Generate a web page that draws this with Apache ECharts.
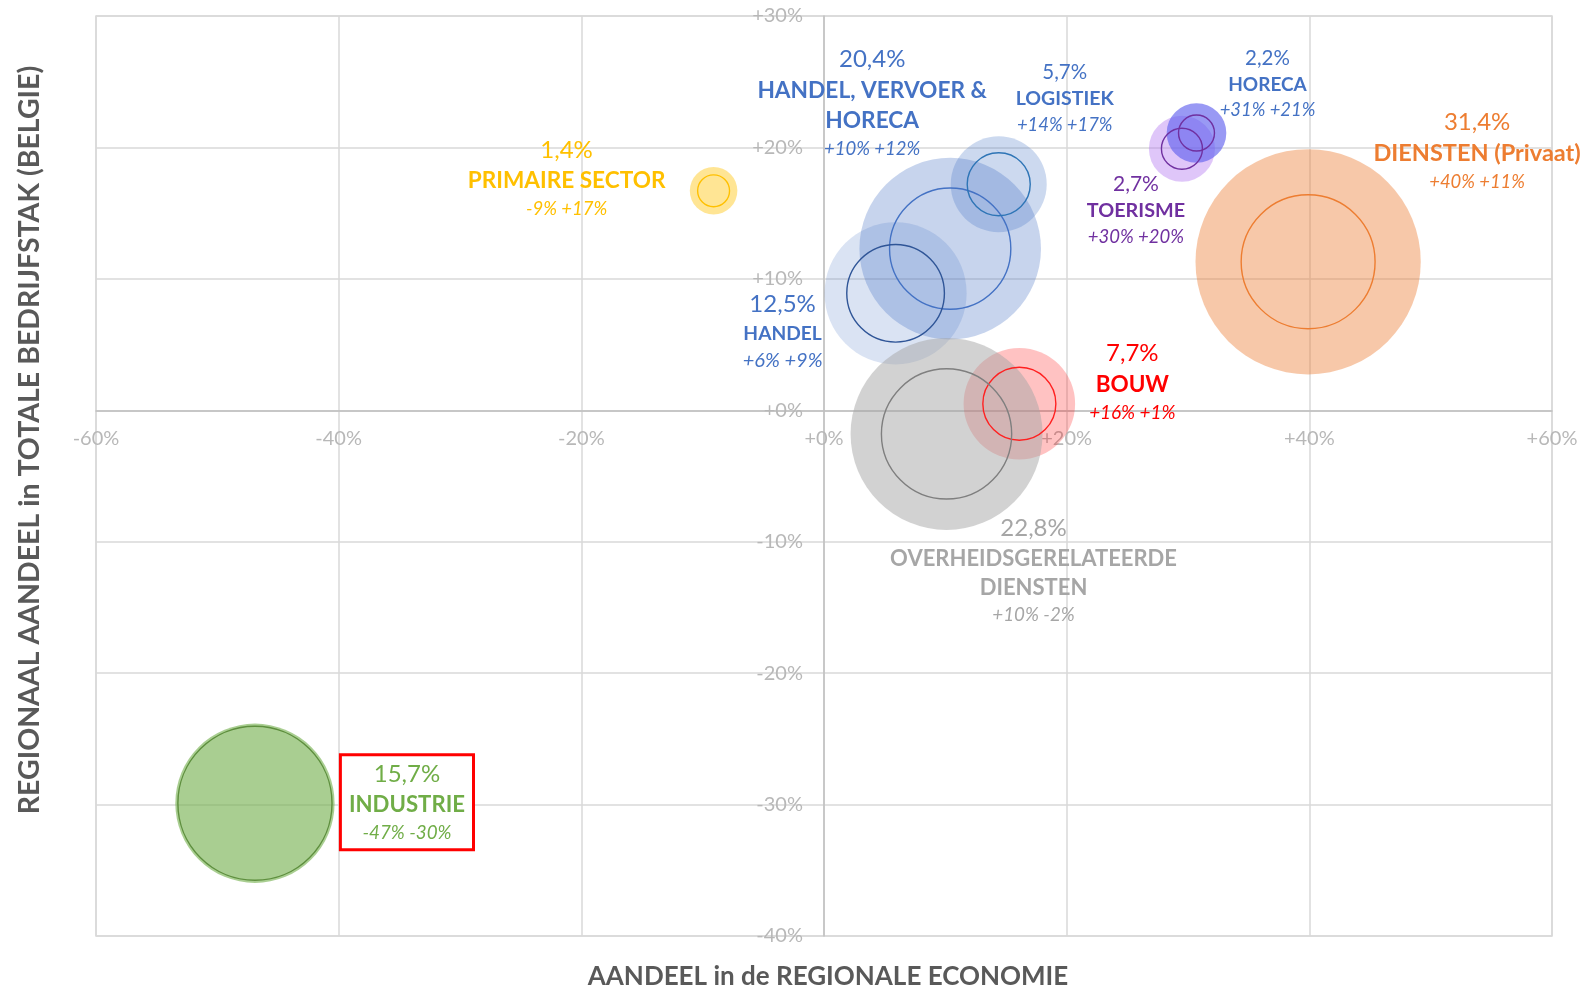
<!DOCTYPE html>
<html><head><meta charset="utf-8">
<script src="https://cdn.jsdelivr.net/npm/echarts@6/dist/echarts.min.js"></script>
<style>html,body{margin:0;padding:0;background:#fff}#c{width:1596px;height:990px}</style>
</head><body><div id="c"></div>
<script>
// ---- data ----
const sectors = ['PRIMAIRE SECTOR','INDUSTRIE','BOUW','DIENSTEN (Privaat)','HANDEL, VERVOER &\nHORECA','HANDEL','LOGISTIEK','TOERISME','HORECA','OVERHEIDSGERELATEERDE\nDIENSTEN'];
const regionalShare = [1.4, 15.7, 7.7, 31.4, 20.4, 12.5, 5.7, 2.7, 2.2, 22.8];   // % of regional economy (outer bubble)
const xShare = [-9.1, -46.9, 16.1, 39.9, 10.4, 5.9, 14.4, 29.5, 30.7, 10.1];    // AANDEEL in de REGIONALE ECONOMIE
const yShare = [16.7, -29.9, 0.5, 11.3, 12.3, 8.9, 17.2, 19.9, 21.1, -1.8];     // REGIONAAL AANDEEL in TOTALE BEDRIJFSTAK
const innerShare = [0.63, 14.7, 3.3, 11.1, 9.1, 5.9, 2.46, 1.04, 0.80, 10.5];  // inner circle size
const xRange = [-60, 60, 20];
const yRange = [-40, 30, 10];

// ---- styles ----
const textColors = ['#FFC000','#70AD47','#FF0000','#ED7D31','#4472C4','#4472C4','#4472C4','#7030A0','#4472C4','#A6A6A6'];
const fillColors = ['rgba(255,192,0,0.42)','rgba(112,173,71,0.6)','rgba(255,0,0,0.24)','rgba(237,125,49,0.42)','rgba(68,114,196,0.3)','rgba(68,114,196,0.2)','rgba(68,114,196,0.27)','rgba(178,120,240,0.42)','rgba(95,95,238,0.64)','rgba(165,165,165,0.5)'];
const strokeColors = ['#FFC000','#5E8F3E','#FF2020','#ED7D31','#4472C4','#2F5597','#2E75B6','#7030A0','#7030A0','#7F7F7F'];
const labelOffsets = [[-147,-13],[152,-1],[113,-22],[169,-111],[-78,-146],[-113,38],[66,-86],[-46,61],[71,-49],[87,136]];
const shareFont = [24, 24, 24, 24, 24, 24, 20.5, 21, 20.5, 24];
const nameFont  = [22.6, 22.2, 22.5, 23.5, 22.7, 19.2, 19.5, 19.8, 19, 22];
const growFont  = [18.5, 18.8, 18.9, 18.4, 18.5, 20, 18.4, 18.5, 18.4, 18.8];
const SIZE_K = 40.2;
const FONT = 'Lato';

const pct = v => (v >= 0 ? '+' : '') + v + '%';
const rpct = v => { const r = Math.round(v); return (r >= 0 ? '+' : '') + r + '%'; };

const outerData = regionalShare.map((s, i) => ({
  value: [xShare[i], yShare[i], s],
  itemStyle: { color: fillColors[i], opacity: 1 }
}));
const innerData = innerShare.map((s, i) => {
  const lbl = {
    color: textColors[i],
    rich: {
      s: { fontSize: shareFont[i], lineHeight: Math.round(shareFont[i] * 1.33), fontFamily: FONT, align: 'center' },
      n: { fontSize: nameFont[i], fontWeight: 'bold', lineHeight: Math.round(nameFont[i] * 1.33), fontFamily: FONT, align: 'center' },
      g: { fontSize: growFont[i], fontStyle: 'italic', lineHeight: Math.round(growFont[i] * 1.4), fontFamily: FONT, align: 'center' }
    }
  };
  if (i === 1) {
    Object.assign(lbl, { backgroundColor: '#fff', borderColor: '#FF0000', borderWidth: 3, padding: [2, 7, 2, 7] });
  }
  return {
    value: [xShare[i], yShare[i], s],
    itemStyle: { color: 'rgba(0,0,0,0)', borderColor: strokeColors[i], borderWidth: 1.4, opacity: 1 },
    label: lbl
  };
});

const axisCommon = {
  axisTick: { show: false },
  splitLine: { show: true, lineStyle: { color: '#d9d9d9', width: 1.5 } }
};

const chart = echarts.init(document.getElementById('c'), null, { renderer: 'canvas' });
chart.setOption({
  animation: false,
  textStyle: { fontFamily: FONT },
  grid: { left: 96, right: 44, top: 16, bottom: 54, show: true, borderColor: '#d9d9d9', borderWidth: 1.5, backgroundColor: 'transparent' },
  xAxis: Object.assign({
    type: 'value', position: 'bottom', min: xRange[0], max: xRange[1], interval: xRange[2],
    axisLine: { show: true, onZero: false, lineStyle: { color: '#bfbfbf', width: 1.5 } },
    axisLabel: { formatter: pct, color: '#b8b8b8', fontSize: 20, fontFamily: FONT, margin: 18, showMinLabel: true, showMaxLabel: true, hideOverlap: false }
  }, axisCommon),
  yAxis: Object.assign({
    type: 'value', position: 'left', min: yRange[0], max: yRange[1], interval: yRange[2],
    axisLine: { show: true, onZero: false, lineStyle: { color: '#bfbfbf', width: 1.5 } },
    axisLabel: { formatter: pct, color: '#b8b8b8', fontSize: 20, fontFamily: FONT, margin: 21, showMinLabel: true, showMaxLabel: true, hideOverlap: false }
  }, axisCommon),
  graphic: [
    { type: 'text', x: 828, y: 977, style: { text: 'AANDEEL in de REGIONALE ECONOMIE', fill: '#595959', font: 'bold 26px Lato', align: 'center', verticalAlign: 'middle' } },
    { type: 'text', x: 30, y: 440, rotation: Math.PI / 2, style: { text: 'REGIONAAL AANDEEL in TOTALE BEDRIJFSTAK (BELGIE)', fill: '#595959', font: 'bold 28.5px Lato', align: 'center', verticalAlign: 'middle' } }
  ],
  series: [
    {
      type: 'scatter', z: 2, silent: true,
      data: outerData,
      itemStyle: { opacity: 1 },
      symbolSize: v => SIZE_K * Math.sqrt(v[2]),
      emphasis: { disabled: true }
    },
    {
      type: 'scatter', z: 3, silent: true,
      data: innerData,
      itemStyle: { opacity: 1 },
      symbolSize: v => SIZE_K * Math.sqrt(v[2]),
      emphasis: { disabled: true },
      label: {
        show: true, position: 'inside', fontFamily: FONT,
        formatter: p => {
          const i = p.dataIndex;
          const share = '{s|' + regionalShare[i].toFixed(1).replace('.', ',') + '%}';
          const name = sectors[i].split('\n').map(t => '{n|' + t + '}').join('\n');
          const g = '{g|' + rpct(xShare[i]) + ' ' + rpct(yShare[i]) + '}';
          return share + '\n' + name + '\n' + g;
        }
      },
      labelLayout: p => ({ dx: labelOffsets[p.dataIndex][0], dy: labelOffsets[p.dataIndex][1], hideOverlap: false })
    }
  ]
});

// move both axes (line + labels) to cross at zero
const zeroX = chart.convertToPixel({ xAxisIndex: 0 }, 0);
const zeroY = chart.convertToPixel({ yAxisIndex: 0 }, 0);
chart.setOption({
  xAxis: { offset: zeroY - (990 - 54) },
  yAxis: { offset: 96 - zeroX }
});
</script></body></html>
